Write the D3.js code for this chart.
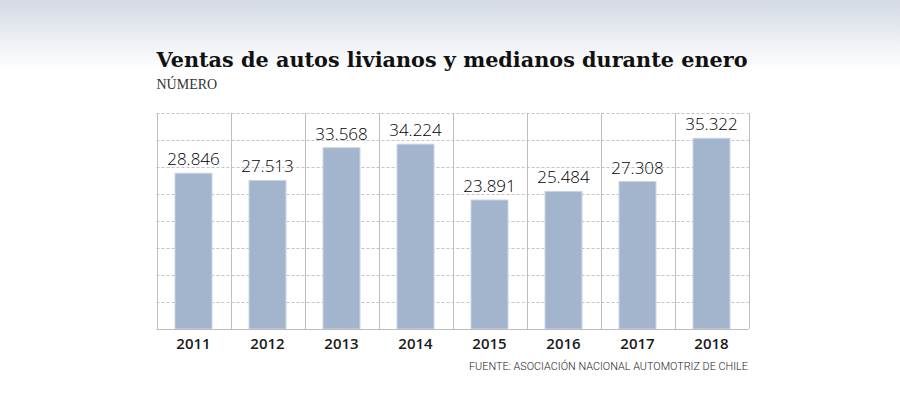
<!DOCTYPE html>
<html>
<head>
<meta charset="utf-8">
<script src="https://cdn.jsdelivr.net/npm/d3@7"></script>
<style>
  html, body { margin: 0; padding: 0; background: #fff; }
  svg { display: block; }
</style>
</head>
<body>
<div id="chart"></div>
<script>
// data
const years = ["2011", "2012", "2013", "2014", "2015", "2016", "2017", "2018"];
const sales = [28846, 27513, 33568, 34224, 23891, 25484, 27308, 35322];
const yTicks = [0, 5000, 10000, 15000, 20000, 25000, 30000, 35000, 40000];

const width = 900, height = 398;
const margin = { top: 113, right: 152, bottom: 70, left: 156.5 };

const svg = d3.select("#chart").append("svg")
  .attr("width", width)
  .attr("height", height);

// soft gradient at the top of the page
const grad = svg.append("defs").append("linearGradient")
  .attr("id", "bg").attr("x1", 0).attr("y1", 0).attr("x2", 0).attr("y2", 1);
grad.append("stop").attr("offset", 0).attr("stop-color", "#d4dae3");
grad.append("stop").attr("offset", 1).attr("stop-color", "#ffffff");
svg.append("rect").attr("width", width).attr("height", 70).attr("fill", "url(#bg)");

const x = d3.scaleBand()
  .domain(years)
  .range([margin.left, margin.left + 592])
  .paddingInner(0.5)
  .paddingOuter(0.25);

const y = d3.scaleLinear()
  .domain([0, 40000])
  .range([329, margin.top]);

// horizontal dashed grid
svg.append("g")
  .selectAll("line")
  .data(yTicks.slice(1))
  .join("line")
  .attr("x1", margin.left)
  .attr("x2", margin.left + 592)
  .attr("y1", d => Math.round(y(d)) + 0.5)
  .attr("y2", d => Math.round(y(d)) + 0.5)
  .attr("stroke", "#c4c4c4")
  .attr("stroke-dasharray", "3,2");

// vertical separators between years
const seps = years.map(d => x(d) - x.step() * 0.25).concat([margin.left + 592]);
svg.append("g")
  .selectAll("line")
  .data(seps)
  .join("line")
  .attr("x1", d => Math.round(d) + 0.5)
  .attr("x2", d => Math.round(d) + 0.5)
  .attr("y1", margin.top)
  .attr("y2", 329)
  .attr("stroke", "#bdbdbd");

// bars
svg.append("g")
  .selectAll("rect")
  .data(sales)
  .join("rect")
  .attr("x", (d, i) => x(years[i]))
  .attr("width", x.bandwidth())
  .attr("y", d => y(d))
  .attr("height", d => 329 - y(d))
  .attr("fill", "#a3b5cd")
  .attr("stroke", "#c9d5e4")
  .attr("stroke-width", 1);

// baseline
svg.append("line")
  .attr("x1", margin.left).attr("x2", margin.left + 592)
  .attr("y1", 329.5).attr("y2", 329.5)
  .attr("stroke", "#bdbdbd");

// value labels
svg.append("g")
  .selectAll("text")
  .data(sales)
  .join("text")
  .attr("x", (d, i) => x(years[i]) + x.bandwidth() / 2)
  .attr("y", d => y(d) - 8)
  .attr("text-anchor", "middle")
  .style("font-family", "'Open Sans', sans-serif")
  .style("font-weight", 300)
  .style("font-size", "17px")
  .attr("fill", "#000")
  .text(d => d3.format(",")(d).replace(",", "."));

// year labels
svg.append("g")
  .selectAll("text")
  .data(years)
  .join("text")
  .attr("x", d => x(d) + x.bandwidth() / 2)
  .attr("y", 349)
  .attr("text-anchor", "middle")
  .style("font-family", "'Open Sans', sans-serif")
  .style("font-weight", 600)
  .style("font-size", "15px")
  .attr("fill", "#1a1a1a")
  .text(d => d);

// titles
svg.append("text")
  .attr("x", margin.left)
  .attr("y", 67)
  .attr("textLength", 591)
  .attr("lengthAdjust", "spacingAndGlyphs")
  .style("font-family", "'DejaVu Serif', serif")
  .style("font-weight", 700)
  .style("font-size", "21px")
  .attr("fill", "#111")
  .text("Ventas de autos livianos y medianos durante enero");

svg.append("text")
  .attr("x", margin.left)
  .attr("y", 89)
  .style("font-family", "'Liberation Serif', serif")
  .style("font-size", "14px")
  .attr("fill", "#333")
  .text("NÚMERO");

svg.append("text")
  .attr("x", 748)
  .attr("y", 370)
  .attr("text-anchor", "end")
  .attr("textLength", 279)
  .attr("lengthAdjust", "spacingAndGlyphs")
  .style("font-family", "Roboto, sans-serif")
  .style("font-weight", 300)
  .style("font-size", "11px")
  .attr("fill", "#222")
  .text("FUENTE: ASOCIACIÓN NACIONAL AUTOMOTRIZ DE CHILE");
</script>
</body>
</html>
